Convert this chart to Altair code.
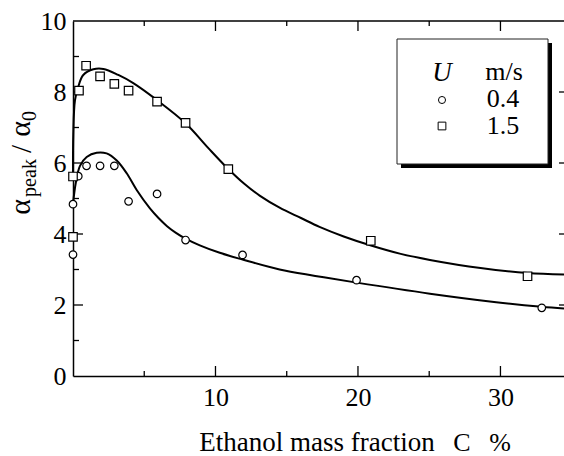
import altair as alt
import pandas as pd

FONT = "serif"

# ---- data ----
c04_x = [0, 0, 0.37, 0.95, 1.9, 2.9, 3.9, 5.9, 7.9, 11.9, 19.9, 32.9]
c04_y = [3.42, 4.84, 5.63, 5.92, 5.92, 5.92, 4.92, 5.13, 3.83, 3.41, 2.70, 1.92]
c15_x = [0, 0, 0.42, 0.92, 1.9, 2.9, 3.9, 5.9, 7.9, 10.9, 20.9, 31.9]
c15_y = [3.92, 5.62, 8.04, 8.74, 8.44, 8.23, 8.04, 7.73, 7.13, 5.83, 3.81, 2.81]

fit04_x = [0, 0.2, 0.49, 0.96, 1.66, 2.36, 3.07, 3.77, 4.47, 5.4, 6.0, 6.6, 7.2, 7.9, 8.9,
           10.3, 11.9, 14.5, 17.0, 19.9, 25.05, 29.7, 32.9, 34.46]
fit04_y = [4.85, 5.45, 5.92, 6.17, 6.29, 6.27, 6.07, 5.71, 5.24, 4.72, 4.45, 4.22, 4.04, 3.87, 3.68,
           3.47, 3.28, 3.0, 2.82, 2.63, 2.32, 2.08, 1.95, 1.90]
fit15_x = [0, 0.02, 0.14, 0.37, 0.72, 1.43, 2.13, 3.18, 4.23, 5.9, 7.9, 9.5, 10.9,
           12.0, 13.1, 14.5, 16.0, 17.3, 19.0, 20.8, 23.0, 25.05, 28.6, 31.9, 34.46]
fit15_y = [5.6, 6.8, 7.77, 8.15, 8.48, 8.64, 8.65, 8.48, 8.25, 7.77, 7.12, 6.42, 5.83,
           5.42, 5.08, 4.74, 4.45, 4.2, 3.93, 3.69, 3.44, 3.27, 3.04, 2.9, 2.86]

x_major = [10, 20, 30]
x_minor = [5, 15, 25]
y_major = [2, 4, 6, 8]
y_minor = [1, 3, 5, 7, 9]
y_labels = [0, 2, 4, 6, 8, 10]

W, H = 491, 355
OX, OY = 73, 21  # plot origin in page pixels

xs = alt.Scale(domain=[0, 34.46], nice=False, zero=False)
ys = alt.Scale(domain=[0, 10], nice=False, zero=False)

xaxis = alt.Axis(values=x_major, ticks=False, tickSize=0, domain=True, domainColor="black",
                 domainWidth=1.5, labelFont=FONT, labelFontSize=26, labelColor="black",
                 labelPadding=8, grid=False, title=None, labelFlush=False, labelOverlap=False)
yaxis = alt.Axis(values=y_labels, ticks=False, tickSize=0, domain=True, domainColor="black",
                 domainWidth=1.5, labelFont=FONT, labelFontSize=26, labelColor="black",
                 labelPadding=7, grid=False, title=None, labelFlush=False, labelOverlap=False)


def X(f):
    return alt.X(f, type="quantitative", scale=xs, axis=xaxis)


def Y(f):
    return alt.Y(f, type="quantitative", scale=ys, axis=yaxis)


one = pd.DataFrame({"k": [0]})

df04 = pd.DataFrame({"x": c04_x, "y": c04_y})
df15 = pd.DataFrame({"x": c15_x, "y": c15_y})
fit04 = pd.DataFrame({"x": fit04_x, "y": fit04_y})
fit15 = pd.DataFrame({"x": fit15_x, "y": fit15_y})

line04 = alt.Chart(fit04).mark_line(color="black", strokeWidth=2, interpolate="catmull-rom").encode(x=X("x"), y=Y("y"))
line15 = alt.Chart(fit15).mark_line(color="black", strokeWidth=2, interpolate="catmull-rom").encode(x=X("x"), y=Y("y"))

pts04 = alt.Chart(df04).mark_point(shape="circle", filled=True, fill="white", stroke="black",
                                   strokeWidth=1.2, size=57, opacity=1).encode(x=X("x"), y=Y("y"))
pts15 = alt.Chart(df15).mark_point(shape="square", filled=True, fill="white", stroke="black",
                                   strokeWidth=1.2, size=72, opacity=1).encode(x=X("x"), y=Y("y"))

# top frame line
top_line = alt.Chart(pd.DataFrame({"y": [10]})).mark_rule(color="black", strokeWidth=1.5).encode(y=Y("y"))

# inward ticks
rk = dict(color="black", strokeWidth=1.3)
bx_major = alt.Chart(pd.DataFrame({"x": x_major})).mark_rule(**rk).encode(x=X("x"), y=alt.value(H), y2=alt.value(H - 10))
bx_minor = alt.Chart(pd.DataFrame({"x": x_minor})).mark_rule(**rk).encode(x=X("x"), y=alt.value(H), y2=alt.value(H - 5))
tx_major = alt.Chart(pd.DataFrame({"x": x_major})).mark_rule(**rk).encode(x=X("x"), y=alt.value(0), y2=alt.value(10))
tx_minor = alt.Chart(pd.DataFrame({"x": x_minor})).mark_rule(**rk).encode(x=X("x"), y=alt.value(0), y2=alt.value(5))
ly_major = alt.Chart(pd.DataFrame({"y": y_major})).mark_rule(**rk).encode(y=Y("y"), x=alt.value(0), x2=alt.value(10))
ly_minor = alt.Chart(pd.DataFrame({"y": y_minor})).mark_rule(**rk).encode(y=Y("y"), x=alt.value(0), x2=alt.value(6))
ry_major = alt.Chart(pd.DataFrame({"y": y_major})).mark_rule(**rk).encode(y=Y("y"), x=alt.value(W - 5), x2=alt.value(W))


def txt(s, px, py, size=26, align="center", baseline="alphabetic", angle=0, italic=False):
    kw = dict(text=s, font=FONT, fontSize=size, align=align, baseline=baseline, color="black")
    if italic:
        kw["fontStyle"] = "italic"
    if angle:
        kw["angle"] = angle
    return alt.Chart(one).mark_text(**kw).encode(x=alt.value(px - OX), y=alt.value(py - OY))


# legend box with shadow
shadow = alt.Chart(one).mark_rect(color="black").encode(
    x=alt.value(401 - OX), x2=alt.value(552 - OX), y=alt.value(43 - OY), y2=alt.value(168 - OY))
box = alt.Chart(one).mark_rect(fill="white", stroke="#222", strokeWidth=1).encode(
    x=alt.value(397 - OX), x2=alt.value(548 - OX), y=alt.value(39 - OY), y2=alt.value(164 - OY))
leg_c = alt.Chart(one).mark_point(shape="circle", filled=True, fill="white", stroke="black",
                                  strokeWidth=1, size=50, opacity=1).encode(
    x=alt.value(442 - OX), y=alt.value(100 - OY))
leg_s = alt.Chart(one).mark_point(shape="square", filled=True, fill="white", stroke="black",
                                  strokeWidth=1, size=60, opacity=1).encode(
    x=alt.value(442 - OX), y=alt.value(126 - OY))
leg_texts = [
    txt("U", 442, 81, size=27, italic=True),
    txt("m/s", 504, 80, size=26),
    txt("0.4", 503, 107, size=26),
    txt("1.5", 503, 134, size=26),
]

# axis titles
ytitle = [
    txt("α", 30, 207, size=30, angle=270),
    txt("peak", 36, 178, size=20, angle=270),
    txt("/", 31, 149, size=29, angle=270),
    txt("α", 30, 129, size=30, angle=270),
    txt("0", 36, 116, size=20, angle=270),
]
xtitle = [
    txt("Ethanol mass fraction", 317, 451, size=27),
    txt("C", 462, 451, size=26),
    txt("%", 500, 451, size=26),
]

chart = alt.layer(
    line04, line15, top_line,
    bx_major, bx_minor, tx_major, tx_minor, ly_major, ly_minor, ry_major,
    pts04, pts15,
    shadow, box, leg_c, leg_s, *leg_texts, *ytitle, *xtitle,
).properties(
    width=W, height=H,
    view=alt.ViewBackground(stroke=None),
    autosize=alt.AutoSizeParams(type="none"),
    padding={"left": OX, "top": OY, "right": 0, "bottom": 456 - OY - H},
).configure(font=FONT)

chart.save("out.html", embed_options={"renderer": "svg", "actions": False})
